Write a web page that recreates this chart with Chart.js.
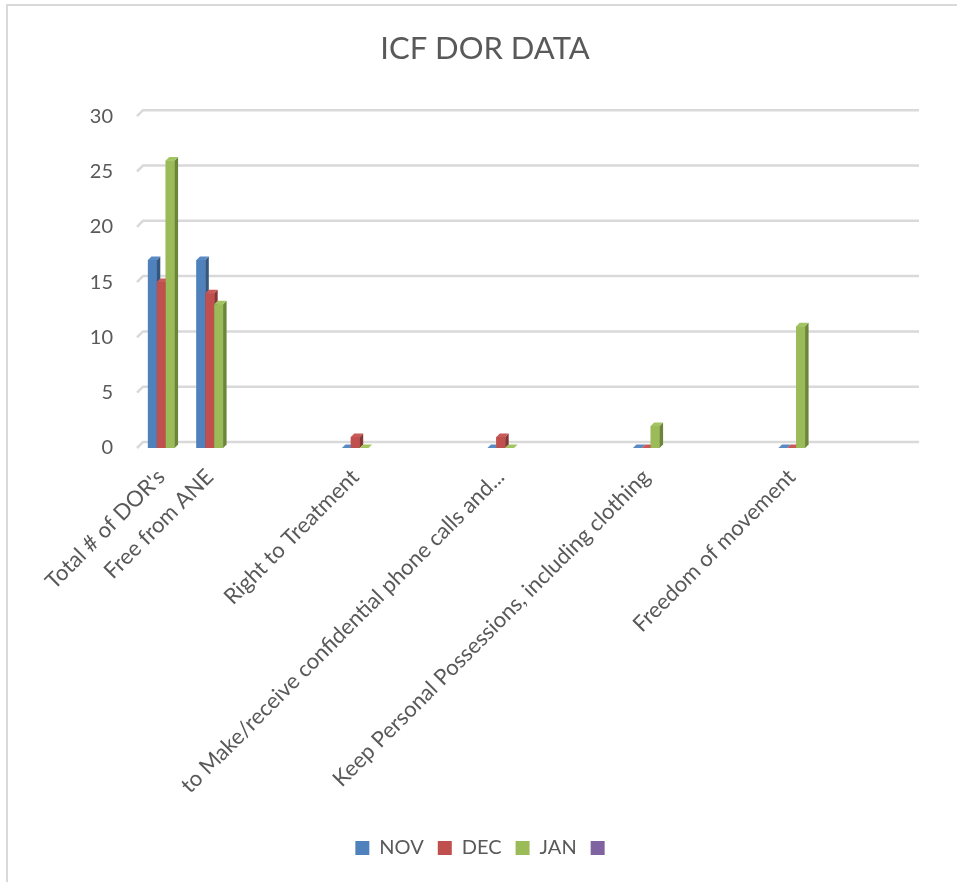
<!DOCTYPE html>
<html>
<head>
<meta charset="utf-8">
<title>ICF DOR DATA</title>
<script src="https://cdn.jsdelivr.net/npm/chart.js@4.4.1/dist/chart.umd.min.js"></script>
<style>
  html, body { margin: 0; padding: 0; background: #fff; overflow: hidden; }
  #frame { position: absolute; left: 6px; top: 4px; width: 951px; height: 878px; border-top: 2px solid #d9d9d9; border-left: 2px solid #d9d9d9; box-sizing: border-box; }
  #wrap { position: absolute; left: 0; top: 0; width: 957px; height: 882px; }
</style>
</head>
<body>
<div id="frame"></div>
<div id="wrap"><canvas id="dorChart" width="957" height="882"></canvas></div>
<script>
// -----------------------------
// Data
// -----------------------------
const categories = [
    "Total # of DOR's", "Free from ANE", "", "",
    "Right to Treatment", "", "",
    "to Make/receive confidential phone calls and...", "", "",
    "Keep Personal Possessions, including clothing", "", "",
    "Freedom of movement", "", ""
];
const seriesNames = ['NOV', 'DEC', 'JAN', ''];
const novValues = [17, 17, null, null, 0, null, null, 0, null, null, 0, null, null, 0, null, null];
const decValues = [15, 14, null, null, 1, null, null, 1, null, null, 0, null, null, 0, null, null];
const janValues = [26, 13, null, null, 0, null, null, 0, null, null, 2, null, null, 11, null, null];
const blankValues = [null, null, null, null, null, null, null, null, null, null, null, null, null, null, null, null];
const yTicks = [0, 5, 10, 15, 20, 25, 30];

// -----------------------------
// Colours / 3D look
// -----------------------------
const frontColors = ['#4f81bd', '#c0504d', '#9bbb59', '#8064a2'];
const sideColors = ['#34567f', '#873634', '#6b8539', '#5a4674'];
const topColors = ['#5a8ac4', '#c85b58', '#a3c463', '#8a6eab'];
const barDepth = 3.5;
const wallDepth = 6;
const textColor = '#595959';
const fontFamily = "Lato, 'Open Sans', sans-serif";

// back wall gridlines, shifted up/right like Excel's 3D wall
const backWallPlugin = {
    id: 'backWall',
    beforeDatasetsDraw(chart) {
        const { ctx, chartArea, scales: { y } } = chart;
        ctx.save();
        ctx.strokeStyle = '#d9d9d9';
        ctx.lineWidth = 2.5;
        y.ticks.forEach(t => {
            const py = y.getPixelForValue(t.value);
            ctx.beginPath();
            ctx.moveTo(chartArea.left, py);
            ctx.lineTo(chartArea.left + wallDepth, py - wallDepth);
            ctx.lineTo(chartArea.right + wallDepth, py - wallDepth);
            ctx.stroke();
        });
        ctx.restore();
    }
};

// redraw bars category by category so side faces stack correctly
const bars3dPlugin = {
    id: 'bars3d',
    afterDatasetsDraw(chart) {
        const ctx = chart.ctx;
        ctx.save();
        categories.forEach((_, idx) => {
            chart.data.datasets.forEach((ds, di) => {
                const value = ds.data[idx];
                const bar = chart.getDatasetMeta(di).data[idx];
                if (value === null || !bar) return;
                const { x, y, base, width } = bar.getProps(['x', 'y', 'base', 'width'], true);
                const l = x - width / 2;
                const r = x + width / 2;

                ctx.fillStyle = frontColors[di];
                ctx.fillRect(l, y, width, base - y);

                ctx.fillStyle = sideColors[di];
                ctx.beginPath();
                ctx.moveTo(r, y);
                ctx.lineTo(r + barDepth, y - barDepth);
                ctx.lineTo(r + barDepth, base - barDepth);
                ctx.lineTo(r, base);
                ctx.closePath();
                ctx.fill();

                ctx.fillStyle = topColors[di];
                ctx.beginPath();
                ctx.moveTo(l, y);
                ctx.lineTo(l + barDepth, y - barDepth);
                ctx.lineTo(r + barDepth, y - barDepth);
                ctx.lineTo(r, y);
                ctx.closePath();
                ctx.fill();
            });
        });
        ctx.restore();
    }
};

// -----------------------------
// Chart
// -----------------------------
const allSeries = [novValues, decValues, janValues, blankValues];
const ctx = document.getElementById('dorChart').getContext('2d');
const dorChart = new Chart(ctx, {
    type: 'bar',
    data: {
        labels: categories,
        datasets: allSeries.map((vals, i) => ({
            label: seriesNames[i],
            data: vals,
            backgroundColor: frontColors[i],
            borderWidth: 0,
            skipNull: true,
            categoryPercentage: 0.55,
            barPercentage: 1.0
        }))
    },
    options: {
        responsive: false,
        animation: false,
        layout: { padding: { left: 13, right: 0, top: 0, bottom: 14 } },
        plugins: {
            title: {
                display: true,
                text: 'ICF DOR DATA',
                color: textColor,
                font: { family: fontFamily, size: 31, weight: 'normal' },
                padding: { top: 30, bottom: 49 }
            },
            legend: {
                position: 'bottom',
                labels: {
                    color: textColor,
                    font: { family: fontFamily, size: 20 },
                    boxWidth: 14,
                    boxHeight: 14,
                    padding: 14
                }
            },
            tooltip: { enabled: false }
        },
        scales: {
            x: {
                grid: { display: false },
                border: { display: false },
                ticks: {
                    autoSkip: false,
                    minRotation: 45,
                    maxRotation: 45,
                    color: textColor,
                    font: { family: fontFamily, size: 22 },
                    padding: 8
                },
                afterFit(scale) { scale.height = 376; }
            },
            y: {
                min: 0,
                max: 30,
                grid: { display: false, drawTicks: false },
                border: { display: false },
                ticks: {
                    stepSize: 5,
                    color: textColor,
                    font: { family: fontFamily, size: 20 },
                    padding: 24
                },
                afterBuildTicks(scale) { scale.ticks = yTicks.map(v => ({ value: v })); },
                afterFit(scale) { scale.width = 124; }
            },
            yRight: {
                position: 'right',
                display: true,
                grid: { display: false },
                border: { display: false },
                ticks: { display: false },
                afterFit(scale) { scale.width = 44; }
            }
        }
    },
    plugins: [backWallPlugin, bars3dPlugin]
});
</script>
</body>
</html>
